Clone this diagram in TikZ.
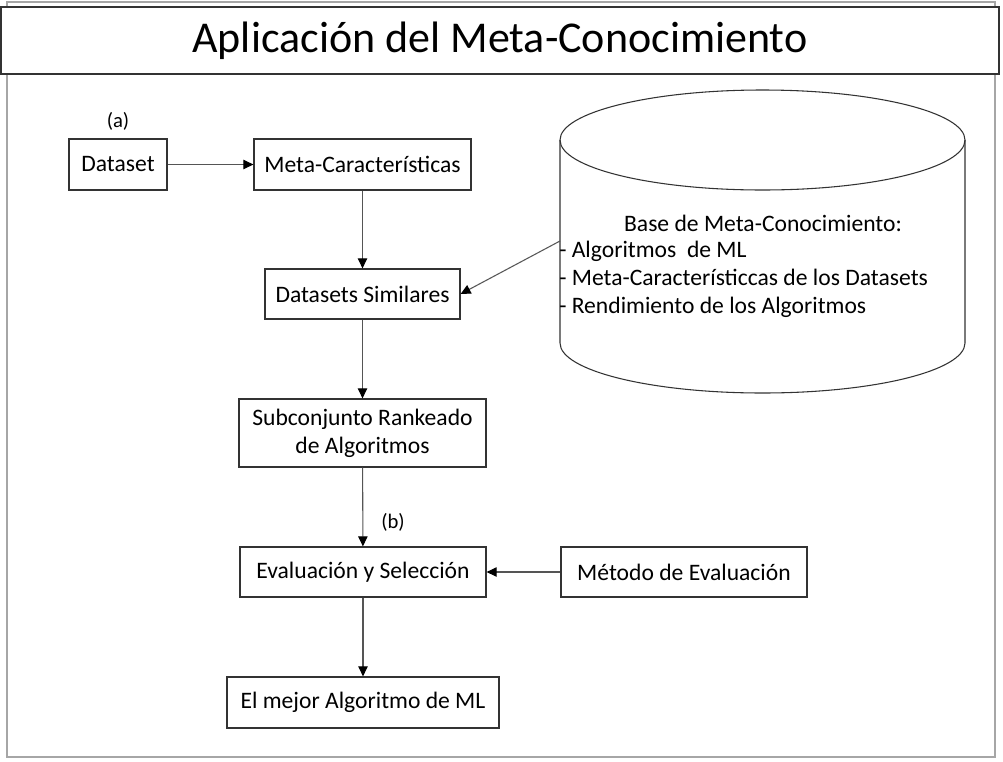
\documentclass[tikz,border=0pt]{standalone}
\usepackage{fontspec}
\setmainfont{Carlito}
\usetikzlibrary{arrows.meta}
\definecolor{boxline}{HTML}{333333}
\definecolor{conline}{HTML}{555555}
\definecolor{frameline}{HTML}{A6A6A6}
\tikzset{
  box/.style={draw=boxline, line width=0.9pt, fill=white, inner sep=0pt, align=center,
    font=\fontsize{17.7}{21}\selectfont},
  conn/.style={draw=conline, line width=0.8pt, -{Triangle[length=7.5pt,width=7pt,color=black]}},
  lbl/.style={font=\fontsize{15.5}{18}\selectfont, inner sep=0pt},
}
\begin{document}
\begin{tikzpicture}[x=0.75pt,y=-0.75pt]
\useasboundingbox (0,0) rectangle (1003,761);
% outer frame
\draw[frameline, line width=1.3pt] (7,2) rectangle (995,757);
% title box
\node[draw=boxline, line width=1.1pt, fill=white, minimum width={998*0.75pt}, minimum height={67*0.75pt}, inner sep=0pt,
  font=\fontsize{33}{38}\selectfont] (title) at (500,40.5) {Aplicación del Meta-Conocimiento};
% boxes
\node[box, minimum width={98*0.75pt}, minimum height={51*0.75pt}] (ds) at (118,164.5) {Dataset};
\node[box, minimum width={217*0.75pt}, minimum height={51*0.75pt}] (mc) at (362.5,164.5) {Meta-Características};
\node[box, minimum width={195*0.75pt}, minimum height={50*0.75pt}] (sim) at (362.5,294) {Datasets Similares};
\node[box, minimum width={247*0.75pt}, minimum height={68*0.75pt}] (sub) at (362.5,433) {Subconjunto Rankeado\\de Algoritmos};
\node[box, minimum width={246*0.75pt}, minimum height={50*0.75pt}] (eval) at (363,572) {Evaluación y Selección};
\node[box, minimum width={246*0.75pt}, minimum height={50*0.75pt}] (met) at (684,572) {Método de Evaluación};
\node[box, minimum width={272*0.75pt}, minimum height={51*0.75pt}] (best) at (363,702.5) {El mejor Algoritmo de ML};
% labels
\node[lbl] (la) at (118,121) {(a)};
\node[lbl] (lb) at (393,522) {(b)};
% cylinder
\draw[boxline, line width=0.8pt, fill=white] (560,140) -- (560,343)
  arc[start angle=180, end angle=360, x radius={202.5*0.75pt}, y radius={50*0.75pt}] -- (965,140)
  arc[start angle=0, end angle=180, x radius={202.5*0.75pt}, y radius={50*0.75pt}] -- cycle;
\draw[boxline, line width=0.8pt] (560,140)
  arc[start angle=180, end angle=360, x radius={202.5*0.75pt}, y radius={50*0.75pt}];
\node[inner sep=0pt, font=\fontsize{17.7}{21}\selectfont] (kbt) at (763,223) {Base de Meta-Conocimiento:};
\node[inner sep=0pt, anchor=west, align=left, font=\fontsize{17.7}{21}\selectfont] (kbl) at (559,279)
  {- Algoritmos~ de ML\\- Meta-Característiccas de los Datasets\\- Rendimiento de los Algoritmos};
\coordinate (kbe) at (560,241);
% connectors
\draw[conn] (ds) -- (mc);
\draw[conn] (mc) -- (sim);
\draw[conn] (kbe) -- (sim.east);
\draw[conn] (sim) -- (sub);
\draw[conn] (sub) -- (eval);
\draw[conn] (met) -- (eval);
\draw[conn] (eval) -- (best);
\end{tikzpicture}
\end{document}
